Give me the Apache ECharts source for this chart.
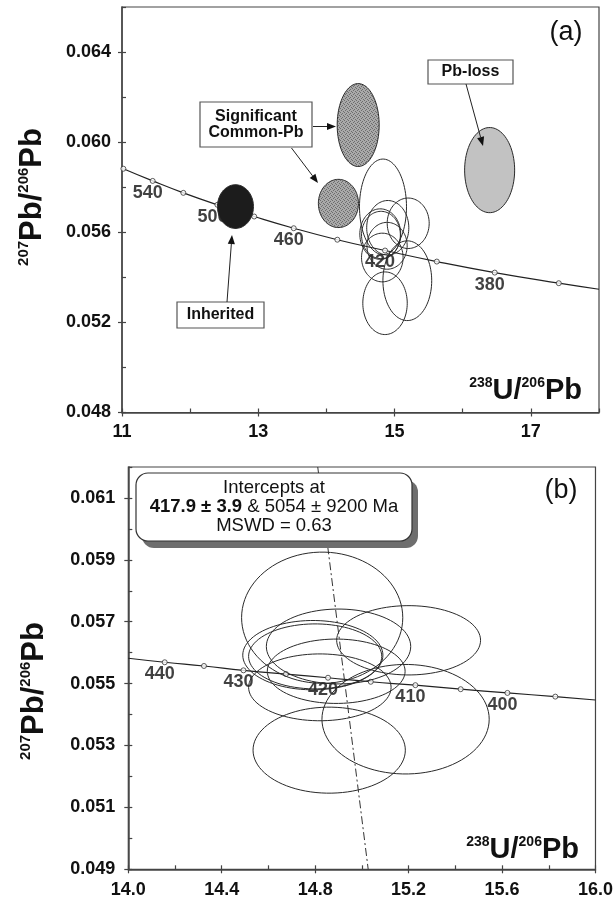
<!DOCTYPE html>
<html>
<head>
<meta charset="utf-8">
<script src="https://cdn.jsdelivr.net/npm/echarts@6/dist/echarts.min.js"></script>
<style>
  html, body { margin: 0; padding: 0; background: #fff; }
  #chart { width: 616px; height: 900px; }
</style>
</head>
<body>
<div id="chart"></div>
<script>
// ---------- Axis ticks ----------
const topXTicks = [11, 13, 15, 17];
const topXMinor = [11, 12, 13, 14, 15, 16, 17, 18];
const topYTicks = [0.048, 0.052, 0.056, 0.060, 0.064];
const topYMinor = [0.048, 0.050, 0.052, 0.054, 0.056, 0.058, 0.060, 0.062, 0.064, 0.066];
const botXTicks = [14.0, 14.4, 14.8, 15.2, 15.6, 16.0];
const botXMinor = [14.0, 14.2, 14.4, 14.6, 14.8, 15.0, 15.2, 15.4, 15.6, 15.8, 16.0];
const botYTicks = [0.049, 0.051, 0.053, 0.055, 0.057, 0.059, 0.061];
const botYMinor = [0.049, 0.050, 0.051, 0.052, 0.053, 0.054, 0.055, 0.056, 0.057, 0.058, 0.059, 0.060, 0.061, 0.062];

// ---------- Concordia (Tera-Wasserburg), panel (a) ----------
const concAgesA = [560, 540, 520, 500, 480, 460, 440, 420, 400, 380, 360];
const concXA = [11.02, 11.45, 11.90, 12.40, 12.94, 13.52, 14.16, 14.86, 15.62, 16.47, 17.41];
const concYA = [0.05882, 0.05828, 0.05775, 0.05722, 0.05670, 0.05618, 0.05567, 0.05519, 0.05470, 0.05421, 0.05374];
const concEndA = [18.0, 0.05347];
const concLabelsA = [540, 500, 460, 420, 380];

// ---------- Concordia, panel (b) ----------
const concAgesB = [440, 435, 430, 425, 420, 415, 410, 405, 400, 395];
const concXB = [14.156, 14.324, 14.493, 14.675, 14.855, 15.038, 15.229, 15.423, 15.623, 15.828];
const concYB = [0.05569, 0.05557, 0.05543, 0.05531, 0.05519, 0.05506, 0.05495, 0.05482, 0.05470, 0.05458];
const concStartB = [14.0, 0.05582];
const concEndB = [16.0, 0.05447];
const concLabelsB = [440, 430, 420, 410, 400];

// ---------- Analyses used in the age (centre x, centre y, half-widths) ----------
const spotX  = [14.83, 15.20, 14.79, 14.80, 14.90, 14.89, 14.82, 15.187, 14.86];
const spotY  = [0.05713, 0.05640, 0.05592, 0.05588, 0.05620, 0.05540, 0.05488, 0.05385, 0.05285];
const spotRx = [0.345, 0.308, 0.300, 0.285, 0.309, 0.295, 0.305, 0.358, 0.326];
const spotRy = [0.00212, 0.00112, 0.00112, 0.00105, 0.00121, 0.00104, 0.00108, 0.00177, 0.00139];

// ---------- Rejected analyses ----------
const inheritedX = [12.665], inheritedY = [0.05714], inheritedRx = [0.264], inheritedRy = [0.00097];
const commonPbX = [14.466, 14.176], commonPbY = [0.06076, 0.05728], commonPbRx = [0.308, 0.294], commonPbRy = [0.00184, 0.00107];
const pbLossX = [16.395], pbLossY = [0.05876], pbLossRx = [0.367], pbLossRy = [0.00189];

// ---------- Discordia through the analyses ----------
const discX = [14.811, 15.027];
const discY = [0.062, 0.049];

const FONT = 'Liberation Sans, Arial, Helvetica, sans-serif';
const zip = (...arrs) => arrs[0].map((_, i) => arrs.map(a => a[i]));

// stippled fill for the common-Pb analyses
const stipple = document.createElement('canvas');
stipple.width = 4; stipple.height = 4;
(function () {
  const g = stipple.getContext('2d');
  g.fillStyle = '#a9a9a9'; g.fillRect(0, 0, 4, 4);
  g.fillStyle = '#6c6c6c';
  g.fillRect(0, 0, 1, 1); g.fillRect(2, 1, 1, 1); g.fillRect(1, 2, 1, 1); g.fillRect(3, 3, 1, 1);
})();

function ellipseSeries(xs, ys, rxs, rys, axisIdx, fill, z) {
  return {
    type: 'custom',
    xAxisIndex: axisIdx, yAxisIndex: axisIdx,
    coordinateSystem: 'cartesian2d',
    data: zip(xs, ys, rxs, rys),
    encode: { x: 0, y: 1 },
    clip: true,
    z: z,
    silent: true,
    renderItem: function (params, api) {
      const cx = api.value(0), cy = api.value(1), rx = api.value(2), ry = api.value(3);
      const pts = [];
      for (let i = 0; i < 90; i++) {
        const t = i / 90 * Math.PI * 2;
        pts.push(api.coord([cx + rx * Math.cos(t), cy + ry * Math.sin(t)]));
      }
      return {
        type: 'polygon',
        shape: { points: pts },
        style: { fill: fill, stroke: '#2a2a2a', lineWidth: 1 }
      };
    }
  };
}

function mainAxis(dim, grid, min, max, ticks, fmt, margin) {
  return {
    type: 'value', gridIndex: grid, min: min, max: max,
    position: dim === 'x' ? 'bottom' : 'left',
    axisLine: { show: true, onZero: false, lineStyle: { color: '#444', width: 1.5 } },
    axisTick: { show: true, inside: false, length: 4, customValues: ticks, lineStyle: { color: '#444', width: 1.2 } },
    axisLabel: {
      show: true, customValues: ticks, formatter: fmt, margin: margin,
      color: '#111', fontFamily: FONT, fontWeight: 'bold', fontSize: 18
    },
    splitLine: { show: false }
  };
}

function innerAxis(dim, grid, min, max, ticks) {
  return {
    type: 'value', gridIndex: grid, min: min, max: max,
    position: dim === 'x' ? 'bottom' : 'left',
    axisLine: { show: false, onZero: false },
    axisTick: { show: true, inside: true, length: 4, customValues: ticks, lineStyle: { color: '#444', width: 1.2 } },
    axisLabel: { show: false },
    splitLine: { show: false }
  };
}

function concordiaLine(start, xs, ys, end, axisIdx) {
  const pts = [];
  if (start) pts.push(start);
  zip(xs, ys).forEach(p => pts.push(p));
  if (end) pts.push(end);
  return {
    type: 'line', xAxisIndex: axisIdx, yAxisIndex: axisIdx,
    data: pts, smooth: true, showSymbol: false, silent: true,
    lineStyle: { color: '#222', width: 1.2 }, z: 2
  };
}

function concordiaTicks(xs, ys, ages, labelled, axisIdx) {
  return {
    type: 'scatter', xAxisIndex: axisIdx, yAxisIndex: axisIdx,
    data: zip(xs, ys, ages), symbol: 'circle', symbolSize: 5, silent: true,
    itemStyle: { color: '#fff', borderColor: '#333', borderWidth: 1 },
    label: {
      show: true, position: 'inside', offset: [-5, 12],
      formatter: p => labelled.indexOf(p.value[2]) >= 0 ? String(p.value[2]) : '',
      color: '#111', fontFamily: FONT, fontWeight: 'bold', fontSize: 18
    },
    z: 3
  };
}

function arrow(x1, y1, x2, y2) {
  const a = Math.atan2(y2 - y1, x2 - x1), L = 9, W = 3.6;
  const bx = x2 - L * Math.cos(a), by = y2 - L * Math.sin(a);
  return [
    { type: 'line', z: 20, shape: { x1: x1, y1: y1, x2: bx, y2: by }, style: { stroke: '#222', lineWidth: 1 } },
    { type: 'polygon', z: 20, shape: { points: [[x2, y2], [bx - W * Math.sin(a), by + W * Math.cos(a)], [bx + W * Math.sin(a), by - W * Math.cos(a)]] }, style: { fill: '#111' } }
  ];
}

function labelBox(x, y, w, h, text) {
  return [
    { type: 'rect', z: 20, shape: { x: x, y: y, width: w, height: h }, style: { fill: '#fff', stroke: '#555', lineWidth: 1.2 } },
    { type: 'text', z: 21, x: x + w / 2, y: y + h / 2, style: { text: text, font: 'bold 16px ' + FONT, fill: '#111', align: 'center', verticalAlign: 'middle', lineHeight: 16 } }
  ];
}

function supRich(big, small) {
  return {
    s: { fontFamily: FONT, fontWeight: 'bold', fontSize: small, verticalAlign: 'top', lineHeight: big + 1 },
    m: { fontFamily: FONT, fontWeight: 'bold', fontSize: big, lineHeight: big + 1 }
  };
}

function axisTitle(x, y, text, rotate, align, big, small) {
  return {
    type: 'text', z: 20, x: x, y: y, rotation: rotate ? Math.PI / 2 : 0,
    style: { text: text, rich: supRich(big, small), fill: '#111', align: align, verticalAlign: 'middle' }
  };
}

const chart = echarts.init(document.getElementById('chart'), null, { renderer: 'canvas' });

const fmt3 = v => v.toFixed(3);
const fmt1 = v => v.toFixed(1);
const fmt0 = v => String(Math.round(v));

chart.setOption({
  animation: false,
  backgroundColor: '#fff',
  grid: [
    { left: 122, top: 7, width: 477, height: 405.5, show: true, borderColor: '#444', borderWidth: 1.2, backgroundColor: 'transparent' },
    { left: 128.3, top: 467, width: 469.4, height: 402.3, show: true, borderColor: '#444', borderWidth: 1.2, backgroundColor: 'transparent' }
  ],
  xAxis: [
    mainAxis('x', 0, 11, 18, topXTicks, fmt0, 11),
    innerAxis('x', 0, 11, 18, topXMinor),
    mainAxis('x', 1, 14, 16, botXTicks, fmt1, 12),
    innerAxis('x', 1, 14, 16, botXMinor)
  ],
  yAxis: [
    mainAxis('y', 0, 0.048, 0.066, topYTicks, fmt3, 11),
    innerAxis('y', 0, 0.048, 0.066, topYMinor),
    mainAxis('y', 1, 0.049, 0.062, botYTicks, fmt3, 13),
    innerAxis('y', 1, 0.049, 0.062, botYMinor)
  ],
  series: [
    // panel (a)
    concordiaLine(null, concXA, concYA, concEndA, 0),
    concordiaTicks(concXA, concYA, concAgesA, concLabelsA, 0),
    ellipseSeries(spotX, spotY, spotRx, spotRy, 0, 'transparent', 5),
    ellipseSeries(inheritedX, inheritedY, inheritedRx, inheritedRy, 0, '#1c1c1c', 6),
    ellipseSeries(commonPbX, commonPbY, commonPbRx, commonPbRy, 0, { image: stipple, repeat: 'repeat' }, 6),
    ellipseSeries(pbLossX, pbLossY, pbLossRx, pbLossRy, 0, '#c2c2c2', 6),
    // panel (b)
    concordiaLine(concStartB, concXB, concYB, concEndB, 2),
    concordiaTicks(concXB, concYB, concAgesB, concLabelsB, 2),
    {
      type: 'line', xAxisIndex: 2, yAxisIndex: 2, data: zip(discX, discY),
      showSymbol: false, silent: true, z: 4,
      lineStyle: { color: '#333', width: 1, type: [8, 3, 2, 3] }
    },
    ellipseSeries(spotX, spotY, spotRx, spotRy, 2, 'transparent', 5)
  ],
  graphic: [
    // panel (a) annotations
    ...labelBox(200, 102, 112, 45, 'Significant\nCommon-Pb'),
    ...arrow(313, 126.5, 336, 126.5),
    ...arrow(291.5, 148, 318, 183),
    ...labelBox(177, 302, 87, 26, 'Inherited'),
    ...arrow(227, 302, 232, 235),
    ...labelBox(428, 60, 85, 24, 'Pb-loss'),
    ...arrow(466, 84, 483, 146),
    { type: 'text', z: 20, x: 566, y: 33, style: { text: '(a)', font: '27px ' + FONT, fill: '#111', align: 'center', verticalAlign: 'middle' } },
    axisTitle(582, 391, '{s|238}{m|U/}{s|206}{m|Pb}', false, 'right', 29, 14),
    axisTitle(32, 197, '{s|207}{m|Pb/}{s|206}{m|Pb}', true, 'center', 31, 15),
    // panel (b) annotations
    { type: 'rect', z: 20, shape: { x: 142, y: 480, width: 276, height: 68, r: 12 }, style: { fill: '#6e6e6e' } },
    { type: 'rect', z: 21, shape: { x: 136, y: 473, width: 276, height: 68, r: 12 }, style: { fill: '#fff', stroke: '#333', lineWidth: 1.2 } },
    { type: 'text', z: 22, x: 274, y: 488, style: { text: 'Intercepts at', font: '18.5px ' + FONT, fill: '#111', align: 'center', verticalAlign: 'middle' } },
    { type: 'text', z: 22, x: 274, y: 507, style: {
        text: '{b|417.9 ± 3.9} & 5054 ± 9200 Ma',
        rich: { b: { fontFamily: FONT, fontWeight: 'bold', fontSize: 18.5 } },
        font: '18.5px ' + FONT, fill: '#111', align: 'center', verticalAlign: 'middle' } },
    { type: 'text', z: 22, x: 274, y: 526, style: { text: 'MSWD = 0.63', font: '18.5px ' + FONT, fill: '#111', align: 'center', verticalAlign: 'middle' } },
    { type: 'text', z: 20, x: 561, y: 491, style: { text: '(b)', font: '27px ' + FONT, fill: '#111', align: 'center', verticalAlign: 'middle' } },
    axisTitle(579, 850, '{s|238}{m|U/}{s|206}{m|Pb}', false, 'right', 29, 14),
    axisTitle(34, 691, '{s|207}{m|Pb/}{s|206}{m|Pb}', true, 'center', 31, 15)
  ]
});
</script>
</body>
</html>
